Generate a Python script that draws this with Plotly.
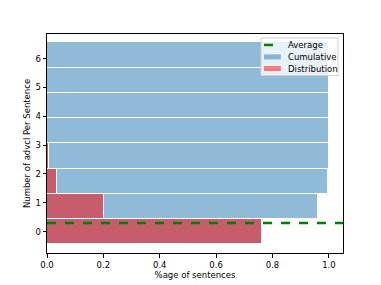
import plotly.graph_objects as go

# Data
bin_positions = [0.0, 0.875, 1.75, 2.625, 3.5, 4.375, 5.25, 6.125]
cumulative = [0.762, 0.963, 0.997, 1.0, 1.0, 1.0, 1.0, 1.0]
distribution = [0.762, 0.203, 0.035, 0.006, 0.0, 0.0, 0.0, 0.0]
average = 0.30
bar_height = 0.875
x_ticks = [0.0, 0.2, 0.4, 0.6, 0.8, 1.0]
y_ticks = [0, 1, 2, 3, 4, 5, 6]
x_max = 1.05

BLUE = "rgba(31,119,180,0.5)"
RED = "rgba(255,0,0,0.5)"
GREEN = "green"

fig = go.Figure()
fig.add_trace(go.Bar(
    y=bin_positions, x=cumulative, orientation="h", width=bar_height,
    name="Cumulative",
    marker=dict(color=BLUE, line=dict(color="white", width=1))))
fig.add_trace(go.Bar(
    y=bin_positions, x=distribution, orientation="h", width=bar_height,
    name="Distribution",
    marker=dict(color=RED, line=dict(color="white", width=1))))
fig.add_trace(go.Scatter(
    x=[0, x_max], y=[average, average], mode="lines", name="Average",
    line=dict(color=GREEN, width=2.5, dash="dash")))

# matplotlib-style legend drawn in paper coordinates
shapes = [
    dict(type="rect", xref="paper", yref="paper", x0=0.723, x1=0.983,
         y0=0.810, y1=0.982, fillcolor="rgba(255,255,255,0.8)",
         line=dict(color="#d0d0d0", width=1), layer="above"),
    dict(type="line", xref="paper", yref="paper", x0=0.733, x1=0.790,
         y0=0.950, y1=0.950, line=dict(color=GREEN, width=2.5, dash="dash"),
         layer="above"),
    dict(type="rect", xref="paper", yref="paper", x0=0.733, x1=0.790,
         y0=0.884, y1=0.907, fillcolor=BLUE, line=dict(width=0), layer="above"),
    dict(type="rect", xref="paper", yref="paper", x0=0.733, x1=0.790,
         y0=0.831, y1=0.854, fillcolor=RED, line=dict(width=0), layer="above"),
]
legend_labels = ["Average", "Cumulative", "Distribution"]
legend_rows = [0.950, 0.895, 0.842]
annotations = [
    dict(text=t, xref="paper", yref="paper", x=0.808, y=yy, xanchor="left",
         yanchor="middle", showarrow=False, font=dict(size=8.5))
    for t, yy in zip(legend_labels, legend_rows)
]

# page body has an 8px margin, so the figure is made smaller to compensate
fig.update_layout(
    width=373, height=277, barmode="overlay", bargap=0,
    margin=dict(l=39, r=38, t=26, b=32),
    paper_bgcolor="white", plot_bgcolor="white",
    font=dict(family="DejaVu Sans", size=8.5, color="black"),
    showlegend=False, shapes=shapes, annotations=annotations,
    xaxis=dict(range=[0, x_max], tickvals=x_ticks, automargin=False,
               ticktext=[f"{v:.1f}" for v in x_ticks],
               showgrid=False, zeroline=False, showline=True, linecolor="black",
               linewidth=1, mirror=True, ticks="outside", ticklen=3.5,
               tickcolor="black",
               title=dict(text="%age of sentences", font=dict(size=8.5), standoff=2)),
    yaxis=dict(range=[-0.74, 6.85], tickvals=y_ticks, automargin=False,
               showgrid=False, zeroline=False, showline=True, linecolor="black",
               linewidth=1, mirror=True, ticks="outside", ticklen=3.5,
               tickcolor="black",
               title=dict(text="Number of advcl Per Sentence", font=dict(size=8.5),
                          standoff=3)),
)
fig.write_html("out.html")
